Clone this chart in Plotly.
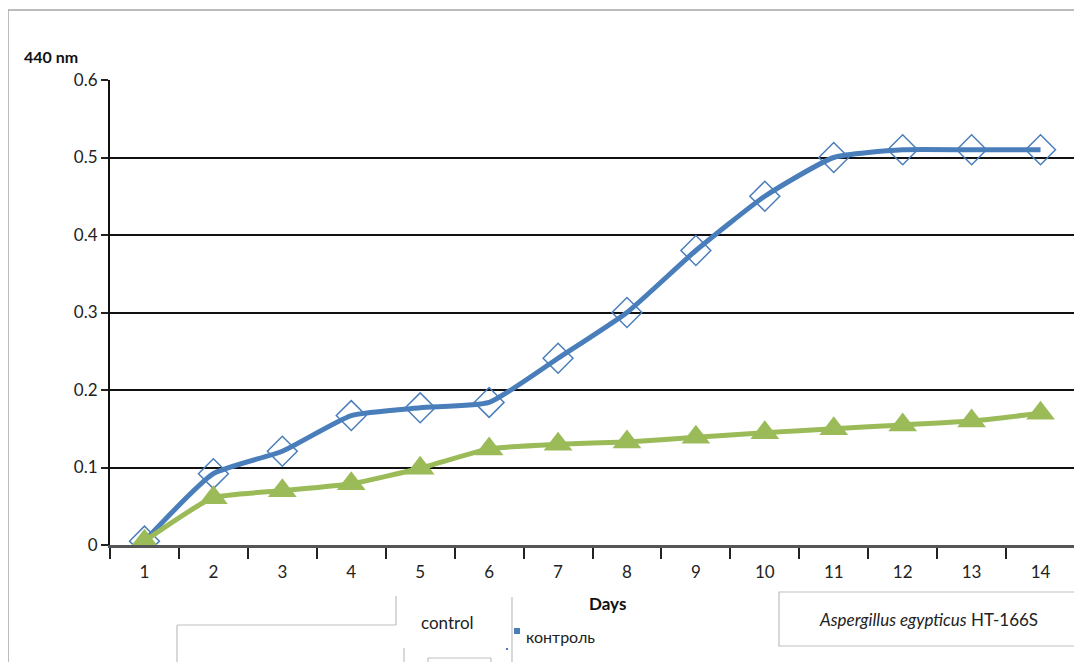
import plotly.graph_objects as go

days = [str(d) for d in range(1, 15)]
control_vals = [0.005, 0.092, 0.121, 0.167, 0.177, 0.184, 0.241, 0.300, 0.380, 0.450, 0.500, 0.510, 0.510, 0.510]
aspergillus_vals = [0.005, 0.061, 0.070, 0.079, 0.099, 0.124, 0.130, 0.133, 0.139, 0.145, 0.150, 0.155, 0.160, 0.170]
y_ticks = [0, 0.1, 0.2, 0.3, 0.4, 0.5, 0.6]
y_tick_labels = ["0", "0.1", "0.2", "0.3", "0.4", "0.5", "0.6"]

OFF = 8  # page body margin
W, H = 1082 - OFF, 662 - OFF
L, R, T, B = 110, 1075, 80, 545  # in reference pixel coords
FONT = "Lato, Open Sans, sans-serif"

def px(x):
    return (x - L) / (R - L)

def py(y):
    return (B - y) / (B - T)

fig = go.Figure()
fig.add_trace(go.Scatter(
    x=days, y=control_vals, mode="lines+markers", name="control",
    line=dict(color="#4A7EBB", width=5, shape="spline", smoothing=0.5),
    marker=dict(symbol="diamond-open", size=23, color="#4A7EBB", line=dict(width=1.5, color="#4A7EBB")),
    showlegend=False,
))
fig.add_trace(go.Scatter(
    x=days, y=aspergillus_vals, mode="lines+markers", name="Aspergillus egypticus HT-166S",
    line=dict(color="#9BBB59", width=5, shape="spline", smoothing=0.5),
    marker=dict(symbol="triangle-up", size=25, color="#9BBB59"),
    showlegend=False,
))

fig.update_xaxes(
    type="category", range=[-0.5, len(days) - 0.5], tickson="boundaries", ticks="outside", ticklen=11, tickwidth=2,
    tickcolor="#222", showline=True, linecolor="#555", linewidth=2.5, showgrid=False,
    tickfont=dict(family=FONT, size=17, color="#222"), zeroline=False, ticklabelstandoff=10,
)
fig.update_yaxes(
    range=[0, 0.6], tickvals=y_ticks, ticktext=y_tick_labels, ticks="outside", ticklen=7,
    tickwidth=2, tickcolor="#222", showline=True, linecolor="#111", linewidth=2,
    showgrid=True, gridcolor="#111", gridwidth=2, zeroline=False,
    tickfont=dict(family=FONT, size=17, color="#222"),
)

shapes = []
shapes.append(dict(type="rect", xref="paper", yref="paper", x0=px(8), x1=px(1077), y0=py(680), y1=py(10),
                   line=dict(color="#A6A6A6", width=1.5), fillcolor="rgba(0,0,0,0)", layer="below"))
def seg(x0, y0, x1, y1, color="#BFBFBF", w=1.2):
    shapes.append(dict(type="line", xref="paper", yref="paper", x0=px(x0), y0=py(y0), x1=px(x1), y1=py(y1),
                       line=dict(color=color, width=w)))
seg(177, 625, 396, 625)
seg(396, 596, 396, 625)
seg(177, 625, 177, 662)
seg(512, 597, 512, 662)
seg(404, 648, 404, 662)
seg(428, 658, 491, 658)
seg(428, 658, 428, 662)
seg(491, 658, 491, 662)
shapes.append(dict(type="rect", xref="paper", yref="paper", x0=px(779), x1=px(1077), y0=py(646), y1=py(592),
                   line=dict(color="#BFBFBF", width=1.2), fillcolor="white"))
shapes.append(dict(type="rect", xref="paper", yref="paper", x0=px(514), x1=px(520), y0=py(634), y1=py(628),
                   line=dict(width=0), fillcolor="#4A7EBB"))
shapes.append(dict(type="rect", xref="paper", yref="paper", x0=px(506), x1=px(508), y0=py(650), y1=py(648),
                   line=dict(width=0), fillcolor="#4A7EBB"))

annotations = [
    dict(text="<b>440 nm</b>", x=px(22), y=py(56), xanchor="left", yanchor="middle",
         font=dict(family=FONT, size=16, color="#111")),
    dict(text="<b>Days</b>", x=px(607), y=py(603), xanchor="center", yanchor="middle",
         font=dict(family=FONT, size=17, color="#111")),
    dict(text="control", x=px(447), y=py(622), xanchor="center", yanchor="middle",
         font=dict(family=FONT, size=17, color="#222")),
    dict(text="контроль", x=px(524), y=py(636), xanchor="left", yanchor="middle",
         font=dict(family=FONT, size=16, color="#222")),
    dict(text="<i>Aspergillus egypticus</i> HT-166S", x=px(928), y=py(619), xanchor="center", yanchor="middle",
         font=dict(family=FONT, size=17, color="#222")),
]
for a in annotations:
    a.update(xref="paper", yref="paper", showarrow=False)

fig.update_layout(
    width=W, height=H,
    margin=dict(l=L - OFF, r=(1082 - R), t=T - OFF, b=(662 - B)),
    paper_bgcolor="white", plot_bgcolor="white",
    shapes=shapes, annotations=annotations, showlegend=False,
)

fig.write_html("out.html")
